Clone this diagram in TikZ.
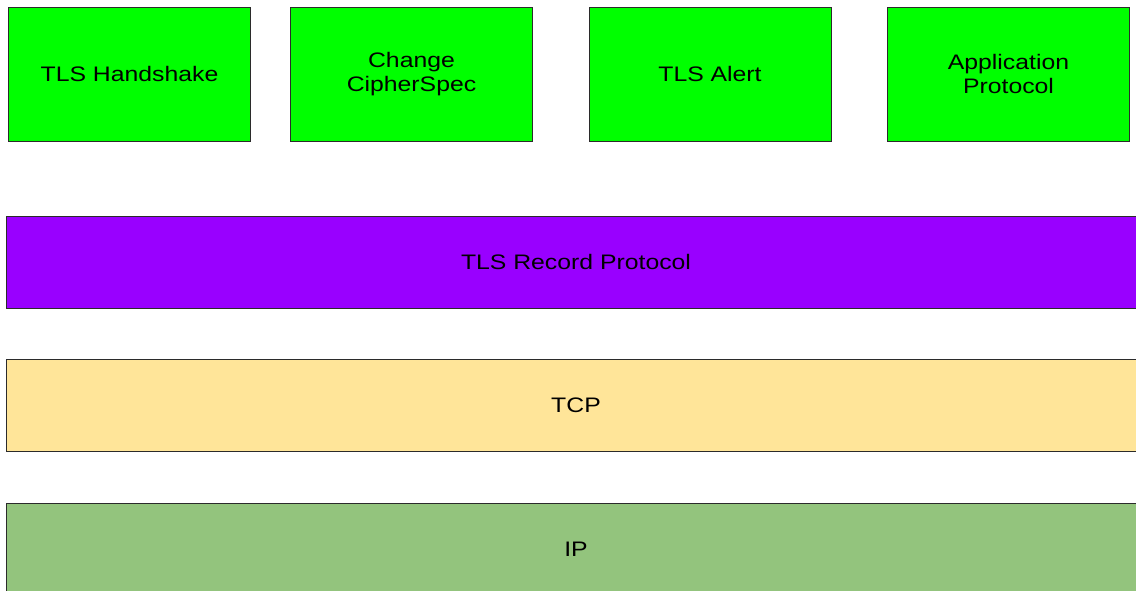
\documentclass[tikz,border=0pt]{standalone}
\usepackage{fontspec}
\setmainfont{Liberation Sans}[FakeStretch=1.18]
\usepackage{tikz}

\definecolor{layergreen}{HTML}{00FF00}
\definecolor{recordpurple}{HTML}{9900FF}
\definecolor{tcptan}{HTML}{FFE599}
\definecolor{ipgreen}{HTML}{93C47D}
\definecolor{edgegray}{HTML}{2B2B2B}

\tikzset{
  proto/.style={draw=edgegray, line width=1pt, fill=layergreen,
    minimum width=242, minimum height=134, inner sep=0pt,
    align=center, font=\fontsize{21}{24}\selectfont},
  layer/.style={draw=edgegray, line width=1pt,
    minimum width=1140, minimum height=92, inner sep=0pt,
    font=\fontsize{21}{24}\selectfont}
}

\begin{document}
\begin{tikzpicture}[x=1pt,y=-1pt]
\useasboundingbox (0,0) rectangle (1136,590);
\clip (0,0) rectangle (1136,590);
% protocols on top of the record layer
\node[proto] (handshake) at (129.5,74) {TLS Handshake};
\node[proto] (ccs) at (411.5,74) {Change\\CipherSpec};
\node[proto] (alert) at (710,74) {TLS Alert};
\node[proto] (app) at (1008.5,74) {Application\\Protocol};
% the layers below
\node[layer, fill=recordpurple] (record) at (576,262) {TLS Record Protocol};
\node[layer, fill=tcptan] (tcp) at (576,405.5) {TCP};
\node[layer, fill=ipgreen] (ip) at (576,549) {IP};
\end{tikzpicture}
\end{document}
